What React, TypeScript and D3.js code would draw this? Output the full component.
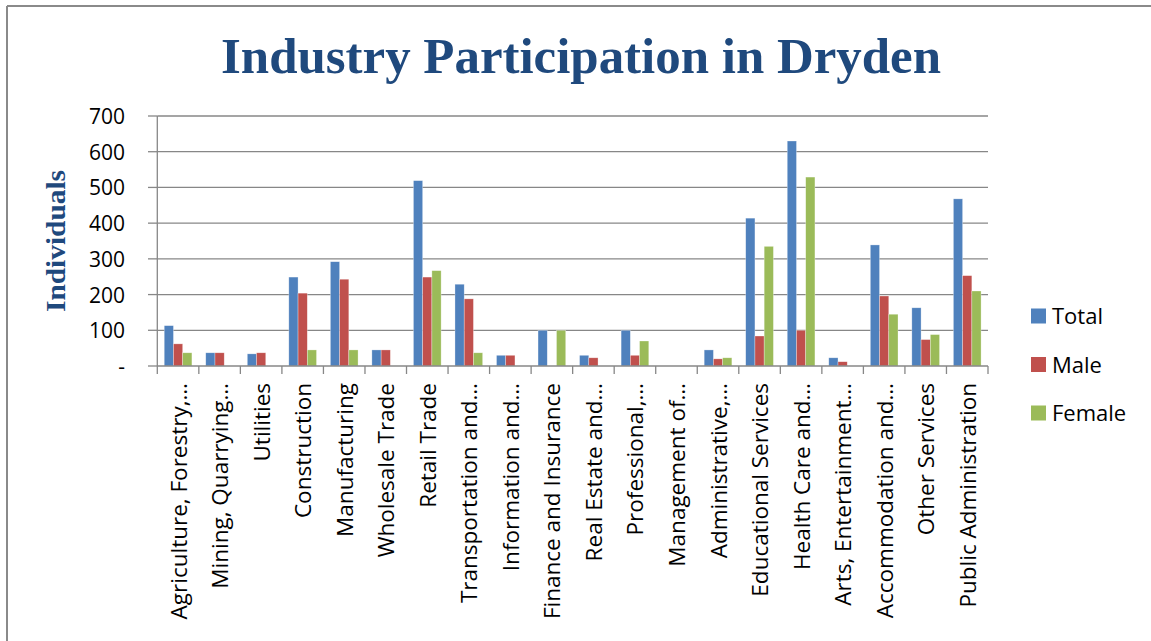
import React from "react";
import * as d3 from "d3";

const categories = [
  "Agriculture, Forestry,…",
  "Mining, Quarrying…",
  "Utilities",
  "Construction",
  "Manufacturing",
  "Wholesale Trade",
  "Retail Trade",
  "Transportation and…",
  "Information and…",
  "Finance and Insurance",
  "Real Estate and…",
  "Professional,…",
  "Management of…",
  "Administrative,…",
  "Educational Services",
  "Health Care and…",
  "Arts, Entertainment…",
  "Accommodation and…",
  "Other Services",
  "Public Administration",
];

const totalValues = [113, 37, 34, 249, 292, 45, 519, 229, 30, 100, 30, 100, 0, 45, 414, 630, 23, 339, 163, 468];
const maleValues = [62, 37, 37, 204, 243, 45, 249, 188, 30, 0, 23, 30, 0, 20, 84, 100, 12, 196, 74, 253];
const femaleValues = [37, 0, 0, 45, 45, 0, 267, 37, 0, 100, 0, 70, 0, 23, 335, 529, 0, 145, 88, 210];

const seriesNames = ["Total", "Male", "Female"];
const seriesColors = ["#4F81BD", "#C0504D", "#9BBB59"];
const yTicks = [0, 100, 200, 300, 400, 500, 600, 700];
const yTickLabels = ["-", "100", "200", "300", "400", "500", "600", "700"];

const title = "Industry Participation in Dryden";
const yTitle = "Individuals";

export default function App() {
  const W = 1151;
  const H = 641;
  const left = 157.3;
  const right = 988;
  const top = 116;
  const bottom = 366;

  const x = d3.scaleBand<string>().domain(categories).range([left, right]).paddingInner(0).paddingOuter(0);
  const y = d3.scaleLinear().domain([0, 700]).range([bottom, top]);
  const bw = x.bandwidth();
  const barW = bw / 4.5;
  const groupOffset = bw * 0.75 / 4.5;
  const xs = d3.scaleBand<string>().domain(seriesNames).range([0, barW * 3]);

  const series = [totalValues, maleValues, femaleValues];
  const gridColor = "#878787";
  const font = "'Open Sans', 'Liberation Sans', sans-serif";

  return (
    <svg width={W} height={H} style={{ position: "absolute", left: 0, top: 0, display: "block" }}>
      <rect x={0} y={0} width={W} height={H} fill="#fff" />
      {/* outer border */}
      <line x1={7} y1={6} x2={W} y2={6} stroke="#8a8a8a" strokeWidth={2} />
      <line x1={7} y1={6} x2={7} y2={H} stroke="#8a8a8a" strokeWidth={2} />

      {/* title */}
      <text
        x={221}
        y={73}
        textLength={720}
        lengthAdjust="spacingAndGlyphs"
        fontFamily="'Liberation Serif', 'DejaVu Serif', serif"
        fontWeight="bold"
        fontSize={50}
        fill="#1F497D"
      >
        {title}
      </text>

      {/* y title */}
      <text
        transform={`translate(65,241) rotate(-90)`}
        textAnchor="middle"
        textLength={142}
        lengthAdjust="spacingAndGlyphs"
        fontFamily="'Liberation Serif', 'DejaVu Serif', serif"
        fontWeight="bold"
        fontSize={27}
        fill="#1F497D"
      >
        {yTitle}
      </text>

      {/* gridlines + y ticks */}
      {yTicks.map((t, i) => (
        <g key={t}>
          {t > 0 && <line x1={left} x2={right} y1={y(t)} y2={y(t)} stroke={gridColor} strokeWidth={1.3} />}
          <line x1={148} x2={left} y1={y(t)} y2={y(t)} stroke={gridColor} strokeWidth={1.3} />
          <text
            x={125}
            y={y(t)}
            textAnchor="end"
            dominantBaseline="central"
            fontFamily={font}
            fontSize={21}
            fill="#000"
          >
            {yTickLabels[i]}
          </text>
        </g>
      ))}

      {/* bars */}
      {categories.map((c, ci) => (
        <g key={c}>
          {series.map((vals, si) =>
            vals[ci] > 0 ? (
              <rect
                key={si}
                x={(x(c) as number) + groupOffset + (xs(seriesNames[si]) as number)}
                y={y(vals[ci])}
                width={barW}
                height={y(0) - y(vals[ci])}
                fill={seriesColors[si]}
                stroke="#ffffff"
                strokeOpacity={0.5}
                strokeWidth={0.6}
              />
            ) : null
          )}
        </g>
      ))}

      {/* axes */}
      <line x1={left} x2={left} y1={top} y2={bottom} stroke={gridColor} strokeWidth={1.3} />
      <line x1={left} x2={right} y1={bottom} y2={bottom} stroke={gridColor} strokeWidth={1.3} />
      {categories.map((c) => (
        <line key={c} x1={x(c) as number} x2={x(c) as number} y1={bottom} y2={bottom + 8} stroke={gridColor} strokeWidth={1.3} />
      ))}
      <line x1={right} x2={right} y1={bottom} y2={bottom + 8} stroke={gridColor} strokeWidth={1.3} />

      {/* category labels */}
      {categories.map((c) => (
        <text
          key={c}
          transform={`translate(${(x(c) as number) + bw / 2},383) rotate(-90)`}
          textAnchor="end"
          dominantBaseline="central"
          fontFamily={font}
          fontSize={22.5}
          fill="#000"
        >
          {c}
        </text>
      ))}

      {/* legend */}
      {seriesNames.map((s, i) => (
        <g key={s} transform={`translate(1031,${316 + i * 48.5})`}>
          <rect x={0} y={-7.5} width={15} height={15} fill={seriesColors[i]} />
          <text x={21} y={-1} dominantBaseline="central" fontFamily={font} fontSize={22} fill="#000">
            {s}
          </text>
        </g>
      ))}
    </svg>
  );
}
